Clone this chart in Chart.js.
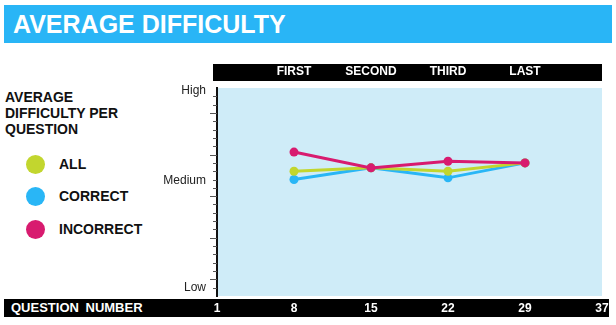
<!DOCTYPE html>
<html>
<head>
<meta charset="utf-8">
<script src="https://cdn.jsdelivr.net/npm/chart.js@4/dist/chart.umd.min.js"></script>
<style>
    body { margin: 0; background: #fff; font-family: "Liberation Sans", Arial, sans-serif; }
    #wrap { position: relative; width: 616px; height: 325px; overflow: hidden; }
    #titlebar { position: absolute; left: 4px; top: 5px; width: 608px; height: 38px; background: #29b5f6;
        color: #fff; font-weight: bold; font-size: 25px; line-height: 38px; padding-left: 9px; box-sizing: border-box; }
    #topbar { position: absolute; left: 213px; top: 64px; width: 389px; height: 17px; background: #000; }
    #bottombar { position: absolute; left: 4px; top: 299px; width: 605px; height: 18px; background: #000;
        color: #fff; font-weight: bold; font-size: 13px; line-height: 18px; padding-left: 7px; box-sizing: border-box; word-spacing: 3px; }
    #legend { position: absolute; left: 5px; top: 89px; color: #111; }
    #legend .head { font-weight: bold; font-size: 14px; line-height: 16px; }
    #legend .item { position: absolute; left: 0; font-weight: bold; font-size: 14px; white-space: nowrap; }
    #legend .dot { position: absolute; left: 21px; width: 19px; height: 19px; border-radius: 50%; }
    #legend .lab { position: absolute; left: 54px; line-height: 19px; }
    #chart { position: absolute; left: 0; top: 0; }
</style>
</head>
<body>
<div id="wrap">
    <div id="titlebar">AVERAGE DIFFICULTY</div>
    <div id="topbar"></div>
    <div id="bottombar">QUESTION NUMBER</div>
    <div id="legend">
        <div class="head">AVERAGE<br>DIFFICULTY PER<br>QUESTION</div>
    </div>
    <canvas id="chart" width="616" height="325"></canvas>
</div>
<script>
// question numbers along the bottom, stage names along the top
const questionLabels = ['1', '8', '15', '22', '29', '37']
const stageLabels = ['', 'FIRST', 'SECOND', 'THIRD', 'LAST', '']

// difficulty on a 0 (low) .. 25 (high) scale
const allValues = [null, 15.0, 15.4, 15.0, 16.0, null]
const correctValues = [null, 14.0, 15.4, 14.2, 16.0, null]
const incorrectValues = [null, 17.3, 15.4, 16.2, 16.0, null]

const yLabelValues = [1, 13.8, 24.7]
const yLabelNames = ['Low', 'Medium', 'High']

const seriesNames = ['ALL', 'CORRECT', 'INCORRECT']
const seriesColors = ['#c2d62e', '#29b6f6', '#d81b6f']

// legend
let legend = document.getElementById('legend')
let legendY = [66, 98, 131]
for (let i = 0; i < seriesNames.length; i++) {
    let item = document.createElement('div')
    item.className = 'item'
    item.style.top = legendY[i] + 'px'
    item.innerHTML = '<div class="dot" style="background:' + seriesColors[i] + '"></div><div class="lab">' + seriesNames[i] + '</div>'
    legend.append(item)
}

const plotBackground = {
    id: 'plotBackground',
    beforeDraw(chart) {
        let ctx = chart.ctx
        let a = chart.chartArea
        ctx.save()
        ctx.fillStyle = '#cfecf8'
        ctx.fillRect(a.left, a.top, a.right - a.left, a.bottom - a.top)
        ctx.restore()
    },
    afterDraw(chart) {
        // minor / major tick marks on the difficulty axis
        let y = chart.scales.y
        let ctx = chart.ctx
        ctx.save()
        ctx.strokeStyle = '#555'
        ctx.lineWidth = 1
        for (let v = y.min + 1; v < y.max; v++) {
            let py = Math.round(y.getPixelForValue(v)) + 0.5
            let len = (v - 2) % 5 == 0 ? 7 : 4
            ctx.beginPath()
            ctx.moveTo(y.right - len, py)
            ctx.lineTo(y.right, py)
            ctx.stroke()
        }
        ctx.restore()
    }
}

function dataset(i, values, order) {
    return {
        label: seriesNames[i],
        data: values,
        borderColor: seriesColors[i],
        backgroundColor: seriesColors[i],
        borderWidth: 3,
        pointRadius: 4.5,
        pointBorderWidth: 0,
        pointHoverRadius: 4.5,
        tension: 0,
        order: order
    }
}

new Chart(document.getElementById('chart'), {
    type: 'line',
    data: {
        labels: questionLabels,
        datasets: [
            dataset(0, allValues, 1),
            dataset(1, correctValues, 2),
            dataset(2, incorrectValues, 0)
        ]
    },
    options: {
        responsive: false,
        animation: false,
        events: [],
        layout: { padding: { left: 0, right: 14, top: 0, bottom: 0 } },
        plugins: { legend: { display: false }, tooltip: { enabled: false } },
        scales: {
            x: {
                type: 'category',
                position: 'bottom',
                offset: false,
                grid: { display: false, drawTicks: false },
                border: { display: false },
                ticks: { color: '#fff', font: { family: 'Liberation Sans', size: 12, weight: 'bold' }, padding: 5, autoSkip: false, maxRotation: 0 },
                afterFit(scale) { scale.height = 29 }
            },
            x2: {
                type: 'category',
                position: 'top',
                labels: stageLabels,
                offset: false,
                grid: { display: false, drawTicks: false },
                border: { display: false },
                ticks: { color: '#fff', font: { family: 'Liberation Sans', size: 12, weight: 'bold' }, padding: 9, autoSkip: false, maxRotation: 0 },
                afterFit(scale) { scale.height = 88 }
            },
            y: {
                min: 0,
                max: 25,
                grid: { display: false, drawTicks: false },
                border: { display: true, color: '#111', width: 2 },
                ticks: {
                    color: '#222',
                    font: { family: 'Liberation Sans', size: 12 },
                    padding: 11,
                    autoSkip: false,
                    callback: v => {
                        let i = yLabelValues.indexOf(v)
                        return i >= 0 ? yLabelNames[i] : ''
                    }
                },
                afterBuildTicks(scale) { scale.ticks = yLabelValues.map(v => ({ value: v })) },
                afterFit(scale) { scale.width = 217 }
            }
        }
    },
    plugins: [plotBackground]
})
</script>
</body>
</html>
